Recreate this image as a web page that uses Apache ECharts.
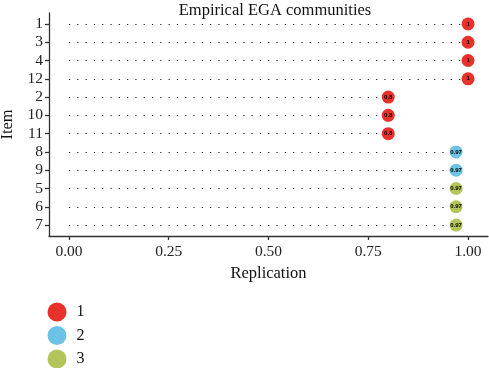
<!DOCTYPE html>
<html>
<head>
<meta charset="utf-8">
<script src="https://cdn.jsdelivr.net/npm/echarts@6/dist/echarts.min.js"></script>
<style>
  html, body { margin: 0; padding: 0; background: #fff; }
  #chart { width: 489px; height: 368px; }
</style>
</head>
<body>
<div id="chart"></div>
<script>
// items from top to bottom
const items = ['1', '3', '4', '12', '2', '10', '11', '8', '9', '5', '6', '7'];
const replication = [1, 1, 1, 1, 0.8, 0.8, 0.8, 0.97, 0.97, 0.97, 0.97, 0.97];
const community = [1, 1, 1, 1, 1, 1, 1, 2, 2, 3, 3, 3];
const communities = ['1', '2', '3'];
const xTicks = [0, 0.25, 0.5, 0.75, 1];
const colors = ['#e8312a', '#6cc3e5', '#b3c55a'];

const serif = 'Liberation Serif';
const axisColor = '#333';

const chart = echarts.init(document.getElementById('chart'));

// dotted segments from 0 to the value
const segments = items.map((it, i) => ({ coords: [[0, i], [replication[i], i]] }));

const pointSeries = communities.map((c, k) => ({
  name: c,
  type: 'scatter',
  symbol: 'circle',
  symbolSize: 13,
  itemStyle: { color: colors[k], opacity: 1 },
  label: {
    show: true,
    position: 'inside',
    fontSize: 6,
    fontWeight: 'bold',
    color: '#000',
    formatter: p => String(p.value[0])
  },
  data: items
    .map((it, i) => (community[i] === k + 1 ? [replication[i], i] : null))
    .filter(d => d),
  z: 3
}));

chart.setOption({
  animation: false,
  title: {
    text: 'Empirical EGA communities',
    left: 270,
    textAlign: 'center',
    top: -3,
    textStyle: { fontFamily: serif, fontSize: 16.5, fontWeight: 'normal', color: '#111' }
  },
  legend: {
    orient: 'vertical',
    left: 47.5,
    top: 302.5,
    height: 80,
    padding: 0,
    itemWidth: 19,
    itemHeight: 19,
    itemGap: 4.5,
    icon: 'circle',
    data: communities,
    textStyle: { fontFamily: serif, fontSize: 16, color: '#111', padding: [0, 0, 0, 5] }
  },
  grid: { left: 49, right: 1, top: 13, bottom: 132, outerBoundsMode: 'none', containLabel: false },
  xAxis: {
    type: 'value',
    min: -0.05,
    max: 1.05,
    name: 'Replication',
    nameLocation: 'middle',
    nameGap: 28,
    nameTextStyle: { fontFamily: serif, fontSize: 16.5, color: '#111' },
    splitLine: { show: false },
    axisLine: { show: true, onZero: false, lineStyle: { color: axisColor, width: 1.3 } },
    axisTick: { show: true, length: 4, customValues: xTicks, lineStyle: { color: axisColor, width: 1.3 } },
    axisLabel: {
      customValues: xTicks,
      formatter: v => v.toFixed(2),
      fontFamily: serif,
      fontSize: 15.5,
      color: '#222',
      margin: 8
    }
  },
  yAxis: {
    type: 'value',
    inverse: true,
    min: -0.6,
    max: items.length - 1 + 0.6,
    name: 'Item',
    nameLocation: 'middle',
    nameRotate: 90,
    nameGap: 31,
    nameTextStyle: { fontFamily: serif, fontSize: 16.5, color: '#111' },
    splitLine: { show: false },
    axisLine: { show: true, onZero: false, lineStyle: { color: axisColor, width: 1.3 } },
    axisTick: { show: true, length: 4, customValues: items.map((it, i) => i), lineStyle: { color: axisColor, width: 1.3 } },
    axisLabel: {
      customValues: items.map((it, i) => i),
      formatter: v => items[Math.round(v)],
      fontFamily: serif,
      fontSize: 15.5,
      color: '#222',
      margin: 6
    }
  },
  series: [
    {
      type: 'lines',
      coordinateSystem: 'cartesian2d',
      polyline: false,
      silent: true,
      lineStyle: { color: '#222', width: 1.2, type: [1.2, 7.1], opacity: 1 },
      data: segments,
      z: 1
    },
    ...pointSeries
  ]
});
</script>
</body>
</html>
